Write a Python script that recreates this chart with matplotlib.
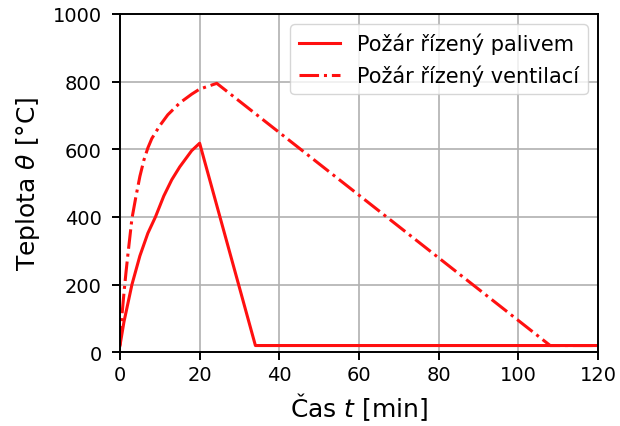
import matplotlib.pyplot as plt

# fuel controlled fire: heating branch, then linear cooling, then ambient
t_fuel = [0, 1, 2, 3, 5, 7, 8.9, 11, 13, 15, 18, 20, 34, 120]
T_fuel = [20, 90, 145, 200, 285, 352, 400, 462, 510, 548, 596, 618, 20, 20]

# ventilation controlled fire
t_vent = [0, 0.5, 1, 1.5, 2, 3, 4, 5, 6, 7, 8, 10, 12, 15, 18, 20, 24.3, 108, 120]
T_vent = [20, 110, 175, 235, 290, 395, 460, 520, 568, 604, 632, 670, 702, 737, 763, 778, 795, 20, 20]

fig = plt.figure(figsize=(6.2, 4.27), dpi=100)
ax = fig.add_axes([0.1935, 0.1726, 0.771, 0.7923])
ax.plot(t_fuel, T_fuel, color='#ff1010', lw=2.2, label='Požár řízený palivem')
ax.plot(t_vent, T_vent, color='#ff1010', lw=2.2, ls='-.', label='Požár řízený ventilací')
ax.set_xlim(0, 120)
ax.set_ylim(0, 1000)
ax.set_xticks(range(0, 121, 20))
ax.set_yticks(range(0, 1001, 200))
ax.grid(True, color='#b0b0b0', lw=1.2)
ax.tick_params(labelsize=14, width=1.4, length=6)
ax.tick_params(axis='y', pad=7)
for s in ax.spines.values():
    s.set_linewidth(1.4)
ax.set_xlabel('Čas $t$ [min]', fontsize=18)
ax.set_ylabel('Teplota $\\theta$ [°C]', fontsize=18, labelpad=8)
ax.legend(loc='upper right', fontsize=15)
fig.savefig('out.png')
